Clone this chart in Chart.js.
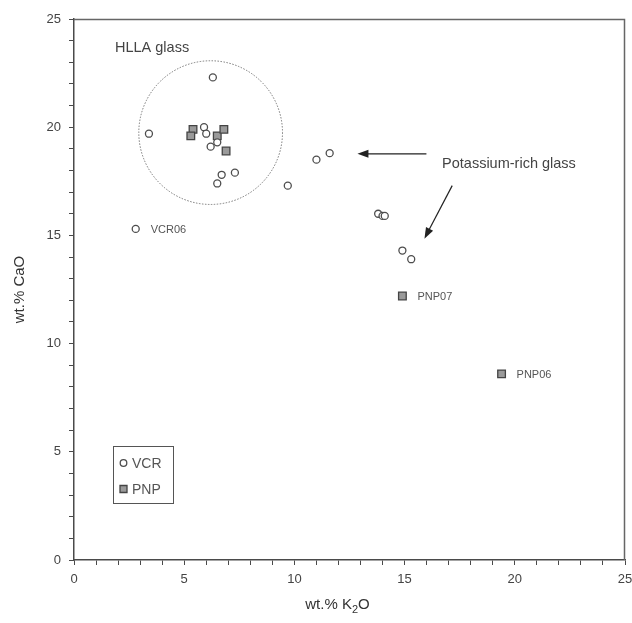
<!DOCTYPE html>
<html>
<head>
<meta charset="utf-8">
<script src="https://cdn.jsdelivr.net/npm/chart.js@4/dist/chart.umd.min.js"></script>
<style>
  body { margin: 0; background: #fff; }
  #wrap { width: 632px; height: 623px; }
</style>
</head>
<body>
<div id="wrap"><canvas id="myChart" width="632" height="623"></canvas></div>
<script>
// data
const vcrK2O = [3.4, 6.3, 5.9, 6.0, 6.5, 6.2, 6.7, 7.3, 6.5, 9.7, 11.0, 11.6, 13.8, 14.0, 14.1, 14.9, 15.3, 2.8]
const vcrCaO = [19.7, 22.3, 20.0, 19.7, 19.3, 19.1, 17.8, 17.9, 17.4, 17.3, 18.5, 18.8, 16.0, 15.9, 15.9, 14.3, 13.9, 15.3]
const pnpK2O = [5.4, 5.3, 6.5, 6.8, 6.9, 14.9, 19.4]
const pnpCaO = [19.9, 19.6, 19.6, 19.9, 18.9, 12.2, 8.6]
const pointLabels = [
    { series: 'VCR', index: 17, text: 'VCR06' },
    { series: 'PNP', index: 5, text: 'PNP07' },
    { series: 'PNP', index: 6, text: 'PNP06' },
]
const axisMin = 0
const axisMax = 25

const toPoints = (xs, ys) => xs.map((x, i) => ({ x: x, y: ys[i] }))

const darkLine = '#4a4a4a'
const font = 'Liberation Sans, Arial, sans-serif'

// annotations: circle, arrows, legend, point labels, axis titles
const annotations = {
    id: 'annotations',
    afterDatasetsDraw(chart) {
        const { ctx, chartArea, scales } = chart
        const xs = scales.x
        const ys = scales.y
        const px = v => xs.getPixelForValue(v)
        const py = v => ys.getPixelForValue(v)
        ctx.save()

        // HLLA circle
        const cx = px(6.2), cy = py(19.75)
        const r = px(6.2 + 3.26) - cx
        ctx.beginPath()
        ctx.setLineDash([1.5, 1.5])
        ctx.strokeStyle = '#777'
        ctx.lineWidth = 1
        ctx.arc(cx, cy, r, 0, Math.PI * 2)
        ctx.stroke()
        ctx.setLineDash([])

        ctx.fillStyle = '#444'
        ctx.font = '14.5px ' + font
        ctx.textBaseline = 'middle'
        ctx.textAlign = 'left'
        ctx.fillText('HLLA glass', px(1.86), py(23.65))
        ctx.fillText('Potassium-rich glass', px(16.7), py(18.3))

        // arrows
        const arrow = (x1, y1, x2, y2) => {
            const ax = px(x1), ay = py(y1), bx = px(x2), by = py(y2)
            const ang = Math.atan2(by - ay, bx - ax)
            ctx.strokeStyle = '#222'
            ctx.fillStyle = '#222'
            ctx.lineWidth = 1.2
            ctx.beginPath()
            ctx.moveTo(ax, ay)
            ctx.lineTo(bx - 8 * Math.cos(ang), by - 8 * Math.sin(ang))
            ctx.stroke()
            ctx.beginPath()
            ctx.moveTo(bx, by)
            ctx.lineTo(bx - 11 * Math.cos(ang) + 4 * Math.sin(ang), by - 11 * Math.sin(ang) - 4 * Math.cos(ang))
            ctx.lineTo(bx - 11 * Math.cos(ang) - 4 * Math.sin(ang), by - 11 * Math.sin(ang) + 4 * Math.cos(ang))
            ctx.closePath()
            ctx.fill()
        }
        arrow(15.99, 18.77, 12.86, 18.77)
        arrow(17.16, 17.3, 15.9, 14.85)

        // point labels
        ctx.fillStyle = '#555'
        ctx.font = '11px ' + font
        pointLabels.forEach(lbl => {
            const xArr = lbl.series === 'VCR' ? vcrK2O : pnpK2O
            const yArr = lbl.series === 'VCR' ? vcrCaO : pnpCaO
            ctx.fillText(lbl.text, px(xArr[lbl.index]) + 15, py(yArr[lbl.index]) + 1)
        })

        // legend box
        const lx = chartArea.left + 39, ly = chartArea.bottom - 114
        ctx.strokeStyle = '#555'
        ctx.lineWidth = 1
        ctx.strokeRect(lx + 0.5, ly + 0.5, 60, 57)
        ctx.font = '14px ' + font
        ctx.fillStyle = '#555'
        chart.data.datasets.forEach((ds, i) => {
            const my = ly + 17 + i * 26
            ctx.beginPath()
            ctx.lineWidth = 1.3
            ctx.strokeStyle = ds.borderColor
            ctx.fillStyle = ds.backgroundColor
            if (ds.pointStyle === 'rect') {
                ctx.rect(lx + 7, my - 3.5, 7, 7)
            } else {
                ctx.arc(lx + 10.5, my, 3.3, 0, Math.PI * 2)
            }
            ctx.fill()
            ctx.stroke()
            ctx.fillStyle = '#555'
            ctx.fillText(ds.label, lx + 19, my + 1)
        })

        // frame
        ctx.strokeStyle = '#666'
        ctx.lineWidth = 1.5
        ctx.beginPath()
        ctx.moveTo(chartArea.left, chartArea.top + 0.5)
        ctx.lineTo(chartArea.right - 0.5, chartArea.top + 0.5)
        ctx.lineTo(chartArea.right - 0.5, chartArea.bottom)
        ctx.stroke()

        // axis titles
        ctx.fillStyle = '#333'
        ctx.font = '15px ' + font
        ctx.textAlign = 'center'
        ctx.save()
        ctx.translate(20, (chartArea.top + chartArea.bottom) / 2)
        ctx.rotate(-Math.PI / 2)
        ctx.fillText('wt.% CaO', 0, 0)
        ctx.restore()

        const tx = (chartArea.left + chartArea.right) / 2 - 12
        const tyy = 605
        ctx.textAlign = 'left'
        const part1 = 'wt.% K'
        const w1 = ctx.measureText(part1).width
        ctx.font = '11px ' + font
        const w2 = ctx.measureText('2').width
        ctx.font = '15px ' + font
        const w3 = ctx.measureText('O').width
        const start = tx - (w1 + w2 + w3) / 2
        ctx.fillText(part1, start, tyy)
        ctx.font = '11px ' + font
        ctx.fillText('2', start + w1, tyy + 5)
        ctx.font = '15px ' + font
        ctx.fillText('O', start + w1 + w2, tyy)

        ctx.restore()
    }
}

const axisOptions = (isX) => ({
    type: 'linear',
    min: axisMin,
    max: axisMax,
    border: { display: true, color: darkLine, width: 1.5 },
    grid: {
        drawOnChartArea: false,
        drawTicks: true,
        tickLength: 5,
        color: darkLine,
    },
    ticks: {
        stepSize: 1,
        autoSkip: false,
        maxRotation: 0,
        color: '#444',
        padding: isX ? 7 : 8,
        font: { family: font, size: 13 },
        callback: v => (v % 5 === 0 ? String(v) : ''),
    },
    afterFit: scale => {
        if (isX) {
            scale.height = 63
            scale.paddingLeft = 0
            scale.paddingRight = 0
        } else {
            scale.width = 74
            scale.paddingTop = 0
            scale.paddingBottom = 0
        }
    },
})

const ctx = document.getElementById('myChart')
new Chart(ctx, {
    type: 'scatter',
    data: {
        datasets: [{
            label: 'VCR',
            data: toPoints(vcrK2O, vcrCaO),
            pointStyle: 'circle',
            pointRadius: 3.5,
            borderWidth: 1.3,
            borderColor: '#4d4d4d',
            backgroundColor: '#ffffff',
        }, {
            label: 'PNP',
            data: toPoints(pnpK2O, pnpCaO),
            pointStyle: 'rect',
            pointRadius: 5.4,
            borderWidth: 1.3,
            borderColor: '#444',
            backgroundColor: '#9a9a9a',
        }]
    },
    options: {
        responsive: false,
        animation: false,
        layout: { padding: { top: 19, right: 7, left: 0, bottom: 0 } },
        plugins: {
            legend: { display: false },
            tooltip: { enabled: false },
        },
        scales: {
            x: axisOptions(true),
            y: axisOptions(false),
        }
    },
    plugins: [annotations]
})
</script>
</body>
</html>
